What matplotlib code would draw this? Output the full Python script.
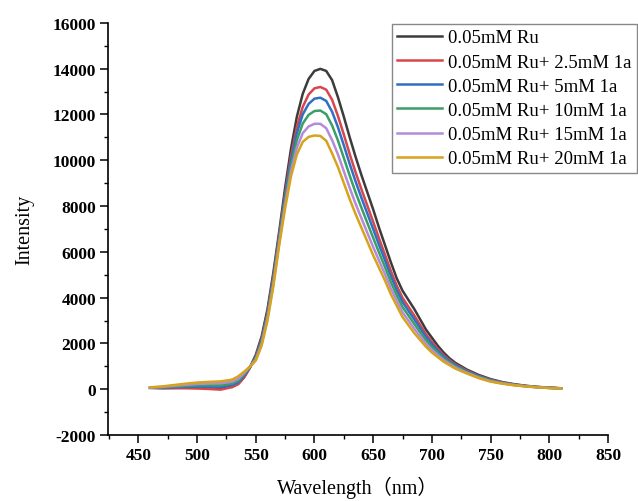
#!/usr/bin/env python3
import matplotlib

matplotlib.use("Agg")
import matplotlib.pyplot as plt
from matplotlib.ticker import MultipleLocator

WAVELENGTH = [460, 470, 480, 490, 500, 510, 520, 530,
              535, 540, 545, 550, 555, 560, 565, 570, 575, 580, 585, 590,
              595, 600, 605, 610, 615, 620, 625, 630, 635, 640, 645, 650,
              655, 660, 665, 670, 675, 680, 685, 690, 695, 700, 705, 710,
              715, 720, 730, 740, 750, 760, 770, 780, 790, 800, 810]

RU_0 = [60, 50, 60, 70, 70, 60, 40, 120,
        230, 520, 950, 1500, 2300, 3500, 5100, 6900, 8800, 10500, 11900, 12900,
        13550, 13900, 13990, 13900, 13500, 12750, 11900, 11000, 10150, 9350, 8600, 7850,
        7050, 6300, 5550, 4850, 4300, 3900, 3500, 3050, 2600, 2250, 1900, 1600,
        1350, 1150, 850, 620, 440, 310, 220, 150, 100, 70, 40]
RU_2_5 = [60, 40, 40, 40, 30, 10, -20, 90,
          220, 510, 930, 1430, 2190, 3365, 4940, 6740, 8560, 10180, 11455, 12330,
          12870, 13140, 13200, 13080, 12640, 11930, 11120, 10270, 9475, 8730, 8020, 7310,
          6580, 5880, 5170, 4525, 3990, 3600, 3215, 2805, 2400, 2075, 1765, 1490,
          1270, 1085, 805, 580, 410, 290, 205, 140, 95, 65, 38]
RU_5 = [60, 60, 80, 100, 110, 110, 100, 180,
        300, 590, 950, 1390, 2130, 3285, 4840, 6640, 8410, 9980, 11190, 12000,
        12460, 12690, 12730, 12590, 12120, 11440, 10650, 9840, 9075, 8360, 7675, 6990,
        6300, 5635, 4950, 4335, 3805, 3425, 3050, 2665, 2280, 1970, 1685, 1430,
        1220, 1045, 775, 560, 395, 280, 200, 135, 90, 60, 36]
RU_10 = [60, 80, 110, 140, 160, 170, 170, 250,
         370, 650, 970, 1345, 2050, 3190, 4730, 6530, 8240, 9760, 10880, 11600,
         11980, 12150, 12170, 12010, 11520, 10860, 10100, 9330, 8600, 7925, 7265, 6610,
         5965, 5340, 4680, 4105, 3585, 3220, 2850, 2490, 2135, 1845, 1590, 1350,
         1165, 995, 745, 535, 370, 265, 190, 130, 88, 58, 34]
RU_15 = [70, 100, 150, 190, 230, 250, 260, 330,
         450, 700, 990, 1295, 1970, 3090, 4610, 6410, 8060, 9520, 10550, 11180,
         11475, 11590, 11590, 11400, 10880, 10250, 9520, 8790, 8100, 7465, 6835, 6210,
         5615, 5030, 4400, 3865, 3355, 3000, 2640, 2310, 1985, 1715, 1490, 1270,
         1105, 945, 710, 505, 350, 255, 180, 125, 85, 55, 32]
RU_20 = [80, 120, 180, 240, 290, 320, 340, 420,
         560, 760, 980, 1250, 1900, 3000, 4500, 6300, 7900, 9300, 10250, 10800,
         11020, 11080, 11060, 10850, 10300, 9700, 9000, 8300, 7650, 7050, 6450, 5850,
         5300, 4750, 4150, 3650, 3150, 2800, 2450, 2150, 1850, 1600, 1400, 1200,
         1050, 900, 680, 480, 330, 240, 170, 120, 80, 50, 30]

SERIES = [RU_0, RU_2_5, RU_5, RU_10, RU_15, RU_20]
LABELS = ["0.05mM Ru", "0.05mM Ru+ 2.5mM 1a", "0.05mM Ru+ 5mM 1a",
          "0.05mM Ru+ 10mM 1a", "0.05mM Ru+ 15mM 1a", "0.05mM Ru+ 20mM 1a"]
COLORS = ["#3c3c3c", "#d8464b", "#2f6fc6", "#3a9e66", "#b58ad8", "#d6a31c"]

SERIF = ["Liberation Serif", "Noto Sans CJK SC"]


def main() -> None:
    plt.rcParams["font.family"] = SERIF
    plt.rcParams["axes.linewidth"] = 1.2
    plt.rcParams["axes.unicode_minus"] = False

    fig = plt.figure(figsize=(6.38, 5.02), dpi=100)
    ax = fig.add_axes([0.169, 0.1315, 0.784, 0.821])

    for ys, label, color in zip(SERIES, LABELS, COLORS):
        ax.plot(WAVELENGTH, ys, color=color, linewidth=1.8, label=label)

    ax.set_xlim(424, 850)
    ax.set_ylim(-2000, 16000)
    ax.xaxis.set_major_locator(MultipleLocator(50))
    ax.xaxis.set_minor_locator(MultipleLocator(25))
    ax.yaxis.set_major_locator(MultipleLocator(2000))
    ax.yaxis.set_minor_locator(MultipleLocator(1000))
    ax.tick_params(which="major", direction="out", length=5.5, width=1.1,
                   labelsize=12.5, pad=3)
    ax.tick_params(which="minor", direction="out", length=2.8, width=1.0)
    for tick in ax.get_xticklabels() + ax.get_yticklabels():
        tick.set_fontweight("bold")

    ax.spines["top"].set_visible(False)
    ax.spines["right"].set_visible(False)

    ax.set_xlabel("Wavelength（nm）", fontsize=14.5, family=SERIF, labelpad=9)
    ax.set_ylabel("Intensity", fontsize=14.5, family=SERIF, labelpad=13)

    leg = ax.legend(loc="upper left", bbox_to_anchor=(391.5 / 638, 1 - 24.5 / 502),
                    bbox_transform=fig.transFigure, fontsize=13.5, frameon=True,
                    fancybox=False, edgecolor="#888888", framealpha=1,
                    handlelength=2.4, handletextpad=0.3, borderpad=0.3,
                    labelspacing=0.38, borderaxespad=0)
    leg.get_frame().set_linewidth(1.0)

    fig.savefig("out.png", dpi=100)
    plt.close(fig)


if __name__ == "__main__":
    main()
